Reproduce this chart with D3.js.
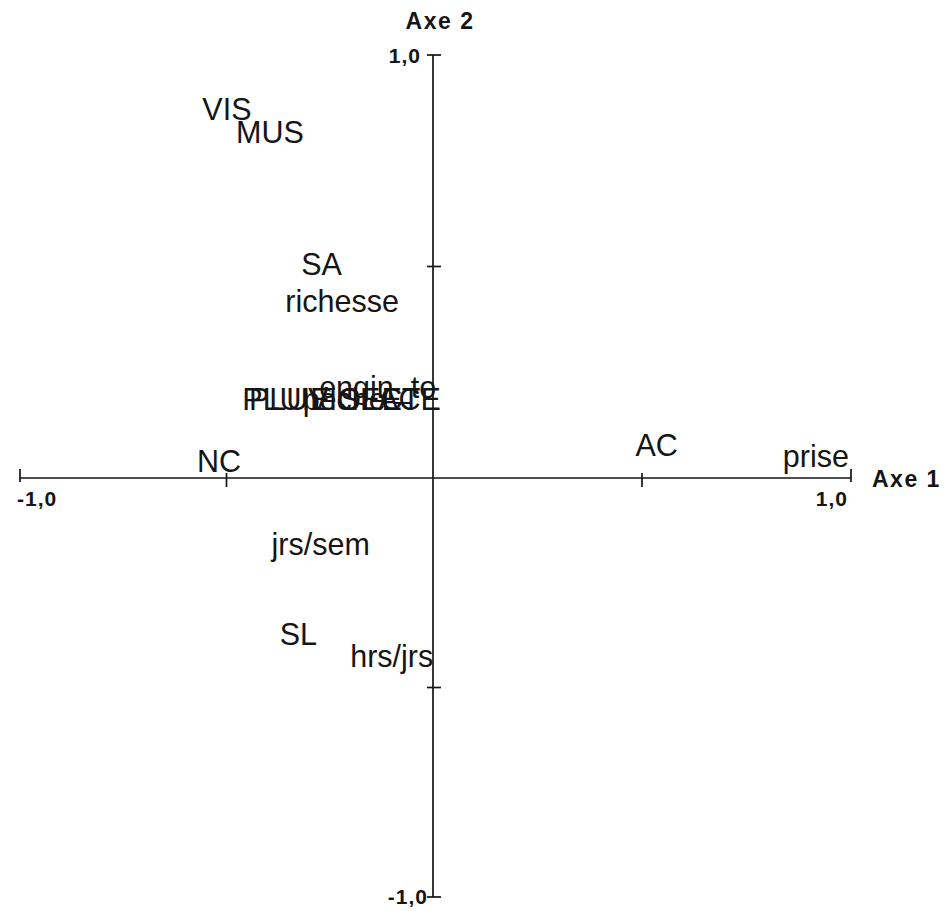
<!DOCTYPE html>
<html>
<head>
<meta charset="utf-8">
<script src="https://cdn.jsdelivr.net/npm/d3@7"></script>
<style>
  html, body { margin: 0; padding: 0; background: #fff; }
  svg { display: block; }
  .lbl { font-family: "Liberation Sans", Arial, Helvetica, sans-serif; font-size: 30.5px; fill: #151515; }
  .axtitle { font-family: "Liberation Sans", Arial, Helvetica, sans-serif; font-size: 23px; font-weight: bold; fill: #151515; }
  .ticklbl { font-family: "Liberation Sans", Arial, Helvetica, sans-serif; font-size: 21px; font-weight: bold; fill: #151515; }
</style>
</head>
<body>
<svg id="chart" width="947" height="911"></svg>
<script>
// Variables projected on the first factorial plane (correlation circle coordinates)
const variables = ["VIS", "MUS", "SA", "richesse",
                   "PLUIE", "PLUVIO", "pèche", "SEC", "LAC", "ETE", "engin_to",
                   "NC", "AC", "prise", "jrs/sem", "SL", "hrs/jrs"];
const axis1 = [-0.499, -0.395, -0.270, -0.220,
               -0.355, -0.310, -0.215, -0.150, -0.102, -0.053, -0.134,
               -0.518, 0.535, 0.916, -0.272, -0.326, -0.100];
const axis2 = [0.871, 0.817, 0.505, 0.417,
               0.186, 0.186, 0.186, 0.186, 0.186, 0.186, 0.214,
               0.039, 0.077, 0.051, -0.159, -0.374, -0.426];

// Axis ticks
const ticks = [-1, -0.5, 0.5, 1];
const tickLabels1 = ["-1,0", "1,0"];   // Axe 1 ends
const tickLabels2 = ["1,0", "-1,0"];   // Axe 2 ends
const axisNames = ["Axe 1", "Axe 2"];

const svg = d3.select("#chart");

const x = d3.scaleLinear().domain([-1, 0, 1]).range([20, 433, 851]);
const y = d3.scaleLinear().domain([-1, 0, 1]).range([897, 478, 55]);

const ink = "#151515";
const lw = 1.7;

// Horizontal axis (Axe 1)
svg.append("line")
  .attr("x1", x(-1)).attr("x2", x(1))
  .attr("y1", y(0)).attr("y2", y(0))
  .attr("stroke", ink).attr("stroke-width", lw);

svg.selectAll(".tick1").data(ticks).enter().append("line")
  .attr("x1", d => x(d)).attr("x2", d => x(d))
  .attr("y1", d => Math.abs(d) === 1 ? y(0) - 9 : y(0) - 5)
  .attr("y2", d => Math.abs(d) === 1 ? y(0) + 4 : y(0) + 9)
  .attr("stroke", ink).attr("stroke-width", lw);

// Vertical axis (Axe 2)
svg.append("line")
  .attr("x1", x(0)).attr("x2", x(0))
  .attr("y1", y(1)).attr("y2", y(-1))
  .attr("stroke", ink).attr("stroke-width", lw);

svg.selectAll(".tick2").data(ticks).enter().append("line")
  .attr("x1", x(0) - 6).attr("x2", x(0) + 8)
  .attr("y1", d => y(d)).attr("y2", d => y(d))
  .attr("stroke", ink).attr("stroke-width", lw);

// End labels
svg.append("text").attr("class", "ticklbl").attr("letter-spacing", 1)
  .attr("x", x(-1) - 3).attr("y", y(0) + 28).text(tickLabels1[0]);
svg.append("text").attr("class", "ticklbl").attr("letter-spacing", 1).attr("text-anchor", "end")
  .attr("x", x(1) - 3).attr("y", y(0) + 28).text(tickLabels1[1]);
svg.append("text").attr("class", "ticklbl").attr("letter-spacing", 1).attr("text-anchor", "end")
  .attr("x", x(0) - 12).attr("y", y(1) + 8).text(tickLabels2[0]);
svg.append("text").attr("class", "ticklbl").attr("letter-spacing", 1).attr("text-anchor", "end")
  .attr("x", x(0) - 5).attr("y", y(-1) + 7).text(tickLabels2[1]);

// Axis titles
svg.append("text").attr("class", "axtitle")
  .attr("x", x(1) + 21).attr("y", y(0) + 9)
  .attr("letter-spacing", 1.5).text(axisNames[0]);
svg.append("text").attr("class", "axtitle").attr("text-anchor", "middle")
  .attr("x", x(0) + 7).attr("y", 29)
  .attr("letter-spacing", 1.5).text(axisNames[1]);

// Variable labels
const rows = variables.map((v, i) => ({ name: v, a1: axis1[i], a2: axis2[i] }));
svg.selectAll(".lbl").data(rows).enter().append("text")
  .attr("class", "lbl")
  .attr("text-anchor", "middle")
  .attr("x", d => x(d.a1))
  .attr("y", d => y(d.a2))
  .attr("dy", "0.35em")
  .text(d => d.name);
</script>
</body>
</html>
